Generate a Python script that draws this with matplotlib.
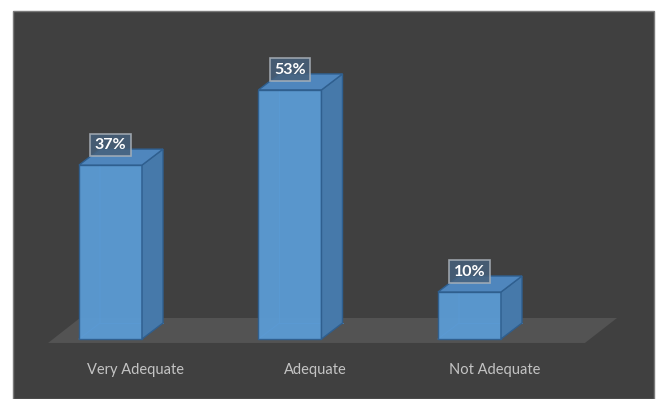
import matplotlib
matplotlib.use("Agg")
import matplotlib.pyplot as plt
from matplotlib.patches import Polygon, Rectangle

categories = ["Very Adequate", "Adequate", "Not Adequate"]
values = [37, 53, 10]
value_labels = ["37%", "53%", "10%"]

W, H = 657, 399
fig = plt.figure(figsize=(W / 100, H / 100), dpi=100)
fig.patch.set_facecolor("white")

# background panel (figure coords)
fig.patches.append(Rectangle((13 / W, 0), (654 - 13) / W, (H - 11) / H,
                             transform=fig.transFigure, facecolor="#404040",
                             edgecolor="#7a7a7a", lw=1.0, zorder=0))

ax = fig.add_axes([0, 0, 1, 1])
ax.set_zorder(5)
ax.set_xlim(-0.6156, 3.0446)
ax.set_ylim(-12.77, 72.13)
ax.axis("off")
ax.patch.set_alpha(0)

hw = 0.1755   # half bar width
dx = 0.117    # depth x
dy = 3.4      # depth y

# floor
floor = Polygon([(-0.348, -0.85), (2.643, -0.85), (2.822, 4.47), (-0.170, 4.47)],
                closed=True, facecolor="#535353", edgecolor="none", zorder=1)
ax.add_patch(floor)

front_c = "#5b9bd5"
side_c = "#4679aa"
top_c = "#4f86bd"
edge_c = "#2f5f8f"

for i, v in enumerate(values):
    x0, x1 = i - hw, i + hw
    # faint back edges
    ax.plot([x0, x0 + dx, x0 + dx], [0, dy, v + dy], color="#4a86c0", lw=0.6, zorder=2)
    ax.plot([x0 + dx, x1 + dx], [dy, dy], color="#4a86c0", lw=0.6, zorder=2)
    front = Polygon([(x0, 0), (x1, 0), (x1, v), (x0, v)], closed=True,
                    facecolor=front_c, edgecolor=edge_c, lw=1.0, zorder=3, alpha=0.95)
    side = Polygon([(x1, 0), (x1 + dx, dy), (x1 + dx, v + dy), (x1, v)], closed=True,
                   facecolor=side_c, edgecolor=edge_c, lw=1.0, zorder=3)
    top = Polygon([(x0, v), (x1, v), (x1 + dx, v + dy), (x0 + dx, v + dy)], closed=True,
                  facecolor=top_c, edgecolor=edge_c, lw=1.0, zorder=3)
    for p in (front, side, top):
        ax.add_patch(p)
    ax.text(i, v + 4.6, value_labels[i], ha="center", va="center_baseline",
            fontsize=11.5, fontweight="bold", color="white", family="Lato", zorder=5,
            bbox=dict(boxstyle="square,pad=0.28", facecolor="#46617c", alpha=0.85,
                      edgecolor="#aab2ba", lw=1.2))
    ax.text(i + 0.14, -6.6, categories[i], ha="center", va="center",
            fontsize=10.5, color="#c4c4c4", family="Lato", zorder=5)

fig.savefig("out.png", dpi=100, facecolor=fig.get_facecolor())
